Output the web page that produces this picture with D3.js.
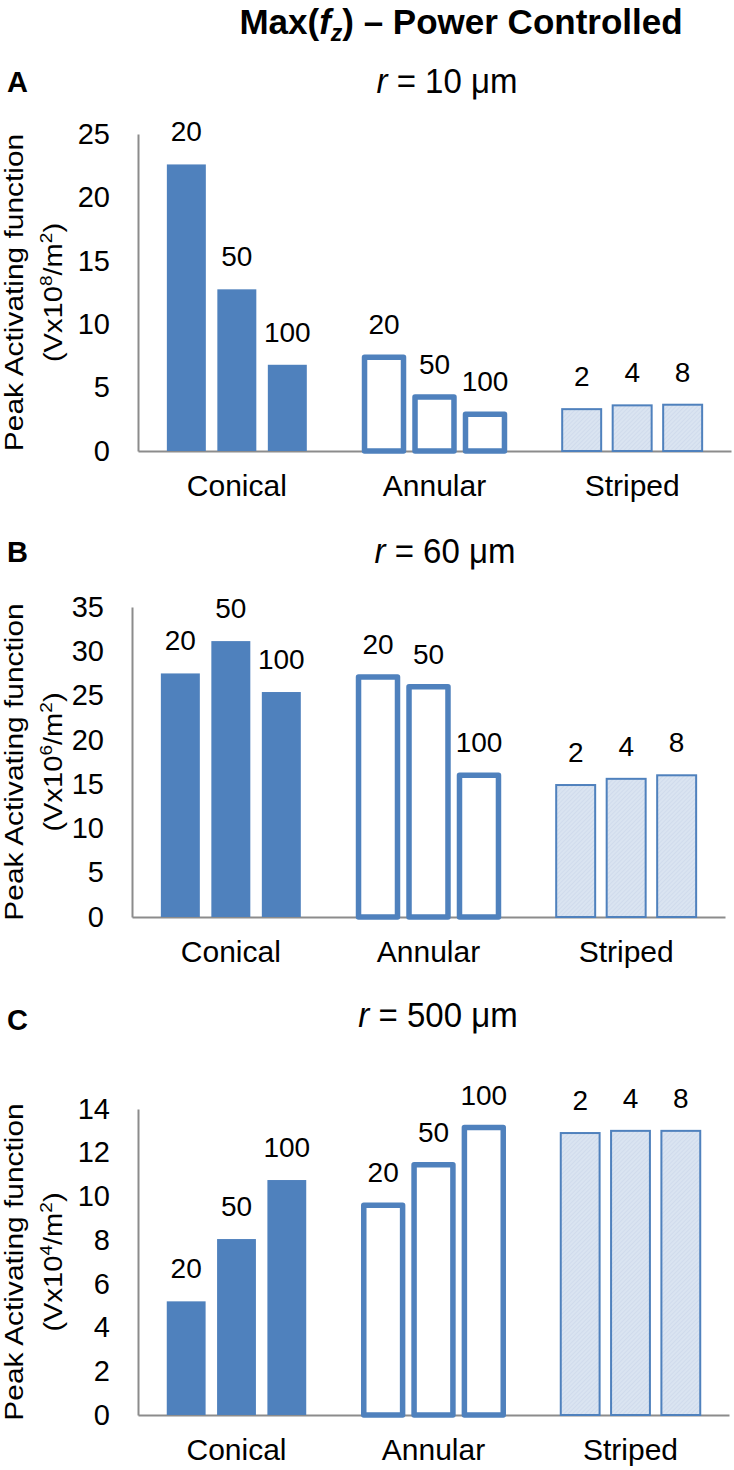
<!DOCTYPE html>
<html><head><meta charset="utf-8">
<script src="https://cdn.jsdelivr.net/npm/d3@7"></script>
<style>
body{margin:0;background:#fff}
svg{display:block}
text{font-family:"Liberation Sans",Arial,Helvetica,sans-serif;fill:#000}
</style>
</head><body>
<svg id="chart" width="734" height="1470"></svg>
<script>
// ---------- DATA ----------
const categories = ["Conical", "Annular", "Striped"];
const conicalLabels = ["20", "50", "100"];
const annularLabels = ["20", "50", "100"];
const stripedLabels = ["2", "4", "8"];
const panelLetters = ["A", "B", "C"];
const radiusValues = ["10", "60", "500"];
const unitExponents = ["8", "6", "4"];

const yTicksA = [0, 5, 10, 15, 20, 25];
const yTicksB = [0, 5, 10, 15, 20, 25, 30, 35];
const yTicksC = [0, 2, 4, 6, 8, 10, 12, 14];

const conicalA = [22.6, 12.75, 6.8];
const annularA = [7.4, 4.25, 2.9];
const stripedA = [3.3, 3.6, 3.65];

const conicalB = [27.5, 31.15, 25.4];
const annularB = [27.1, 26.0, 16.0];
const stripedB = [14.9, 15.6, 16.0];

const conicalC = [5.2, 8.05, 10.75];
const annularC = [9.6, 11.45, 13.15];
const stripedC = [12.9, 13.0, 13.0];

// ---------- LAYOUT ----------
const layouts = [
  {x0: 138, x1: 731, yTop: 134, yBot: 451, letterY: 92, titleY: 93, titleX: 447},
  {x0: 132, x1: 725, yTop: 607, yBot: 917, letterY: 562, titleY: 563, titleX: 445},
  {x0: 138, x1: 729, yTop: 1109, yBot: 1415, letterY: 1030, titleY: 1027, titleX: 438}
];
const BLUE = "#4f81bd";
const AXIS = "#8c8c8c";

const panels = [
  {ticks: yTicksA, series: [conicalA, annularA, stripedA]},
  {ticks: yTicksB, series: [conicalB, annularB, stripedB]},
  {ticks: yTicksC, series: [conicalC, annularC, stripedC]}
];
const labelSets = [conicalLabels, annularLabels, stripedLabels];

const svg = d3.select("#chart");
const defs = svg.append("defs");
const pat = defs.append("pattern").attr("id", "stripe")
  .attr("patternUnits", "userSpaceOnUse").attr("width", 3).attr("height", 3)
  .attr("patternTransform", "rotate(45)");
pat.append("rect").attr("width", 3).attr("height", 3).attr("fill", "#dae4f1");
pat.append("rect").attr("width", 1).attr("height", 3).attr("fill", "#d0dbec");

// main title
const tt = svg.append("text").attr("x", 461).attr("y", 34)
  .attr("text-anchor", "middle").attr("font-size", 35).attr("font-weight", "bold");
tt.append("tspan").text("Max(");
tt.append("tspan").attr("font-style", "italic").text("f");
tt.append("tspan").attr("font-style", "italic").attr("font-size", 23).attr("dy", 7).text("z");
tt.append("tspan").attr("dy", -7).text(") \u2013 Power Controlled");

panels.forEach((p, pi) => {
  const L = layouts[pi];
  const yMax = d3.max(p.ticks);
  const x = d3.scaleBand().domain(categories).range([L.x0, L.x1]).paddingInner(0).paddingOuter(0);
  const y = d3.scaleLinear().domain([0, yMax]).range([L.yBot, L.yTop]);
  const bw = x.bandwidth();
  const inner = d3.scaleBand().domain([0, 1, 2]).range([-0.354 * bw, 0.354 * bw]).paddingInner(0.228).paddingOuter(0);
  const g = svg.append("g");

  // panel letter
  g.append("text").attr("x", 7).attr("y", L.letterY).attr("font-size", 29).attr("font-weight", "bold").text(panelLetters[pi]);

  // panel title
  const pt = g.append("text").attr("transform", `translate(${L.titleX},${L.titleY}) scale(1,1.08)`)
    .attr("text-anchor", "middle").attr("font-size", 33);
  pt.append("tspan").attr("font-style", "italic").text("r");
  pt.append("tspan").text(" = " + radiusValues[pi] + " \u03bcm");

  // y axis
  const ya = g.append("g").attr("transform", `translate(${L.x0},0)`)
    .call(d3.axisLeft(y).tickValues(p.ticks).tickSize(0).tickPadding(28).tickFormat(d3.format("d")));
  ya.select(".domain").attr("stroke", AXIS).attr("stroke-width", 2);
  ya.selectAll("text").attr("font-size", 29).attr("font-family", null).attr("fill", "#000");

  // x axis
  const xa = g.append("g").attr("transform", `translate(0,${L.yBot})`)
    .call(d3.axisBottom(x).tickSize(0).tickSizeOuter(0).tickPadding(24));
  xa.select(".domain").attr("stroke", AXIS).attr("stroke-width", 2);
  xa.selectAll("text").attr("font-size", 30).attr("font-family", null).attr("fill", "#000");

  // y axis title
  const cy = (L.yTop + L.yBot) / 2;
  g.append("text").attr("transform", `translate(23,${cy}) rotate(-90) scale(1.15,1)`)
    .attr("text-anchor", "middle").attr("font-size", 26).text("Peak Activating function");
  const t2 = g.append("text").attr("transform", `translate(62,${cy}) rotate(-90) scale(1.12,1)`)
    .attr("text-anchor", "middle").attr("font-size", 26);
  t2.append("tspan").text("(Vx10");
  t2.append("tspan").attr("font-size", 17).attr("dy", -10).text(unitExponents[pi]);
  t2.append("tspan").attr("dy", 10).text("/m");
  t2.append("tspan").attr("font-size", 17).attr("dy", -10).text("2");
  t2.append("tspan").attr("dy", 10).text(")");

  // bars
  categories.forEach((cat, ci) => {
    const vals = p.series[ci];
    const cx = x(cat) + bw / 2;
    const bars = g.append("g").selectAll("rect").data(vals).join("rect")
      .attr("x", (d, i) => cx + inner(i))
      .attr("width", inner.bandwidth())
      .attr("y", d => y(d))
      .attr("height", d => y(0) - y(d));
    if (ci === 0) {
      bars.attr("fill", BLUE);
    } else if (ci === 1) {
      bars.attr("fill", "#fff").attr("stroke", BLUE).attr("stroke-width", 5.5).attr("stroke-linejoin", "round");
    } else {
      bars.attr("fill", "url(#stripe)").attr("stroke", BLUE).attr("stroke-width", 2);
    }
    g.append("g").selectAll("text").data(vals).join("text")
      .attr("x", (d, i) => cx + inner(i) + inner.bandwidth() / 2)
      .attr("y", d => y(d) - 23)
      .attr("text-anchor", "middle").attr("font-size", 28)
      .text((d, i) => labelSets[ci][i]);
  });
});
</script>
</body></html>
